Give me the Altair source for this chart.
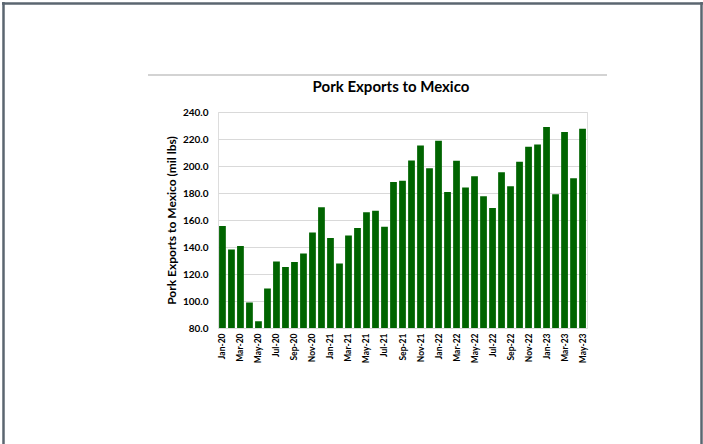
import altair as alt
import pandas as pd

months = [
    "Jan-20", "Feb-20", "Mar-20", "Apr-20", "May-20", "Jun-20", "Jul-20", "Aug-20", "Sep-20", "Oct-20", "Nov-20", "Dec-20",
    "Jan-21", "Feb-21", "Mar-21", "Apr-21", "May-21", "Jun-21", "Jul-21", "Aug-21", "Sep-21", "Oct-21", "Nov-21", "Dec-21",
    "Jan-22", "Feb-22", "Mar-22", "Apr-22", "May-22", "Jun-22", "Jul-22", "Aug-22", "Sep-22", "Oct-22", "Nov-22", "Dec-22",
    "Jan-23", "Feb-23", "Mar-23", "Apr-23", "May-23",
]
exports = [
    155.6, 138.2, 140.7, 98.8, 85.0, 109.2, 129.3, 125.1, 128.8, 135.2, 150.8, 169.4,
    146.6, 127.8, 148.6, 154.1, 165.7, 166.9, 155.0, 188.1, 189.0, 204.1, 215.2, 198.4,
    218.7, 180.8, 203.8, 184.0, 192.4, 177.6, 168.9, 195.4, 185.0, 203.1, 214.2, 216.0,
    228.9, 179.0, 225.1, 191.0, 227.6,
]
shown_labels = months[::2]
y_ticks = [80, 100, 120, 140, 160, 180, 200, 220, 240]
chart_title = "Pork Exports to Mexico"

df = pd.DataFrame({"month": months, "value": exports})
FONT = "Lato"

bars = alt.Chart(df).mark_bar(color="#006400", clip=True).encode(
    x=alt.X(
        "month:N",
        sort=months,
        scale=alt.Scale(paddingInner=0.25, paddingOuter=0.12),
        axis=alt.Axis(
            title=None,
            values=shown_labels,
            labelAngle=-90,
            labelFont=FONT,
            labelFontWeight="bold",
            labelFontSize=8.5,
            labelColor="#000000",
            labelPadding=5,
            ticks=False,
            domain=False,
        ),
    ),
    y=alt.Y(
        "value:Q",
        scale=alt.Scale(domain=[80, 240], nice=False, zero=False),
        axis=alt.Axis(
            title="Pork Exports to Mexico (mil lbs)",
            titleFont=FONT,
            titleFontSize=12,
            titleFontWeight="bold",
            titleColor="#000000",
            titlePadding=4,
            values=y_ticks,
            format=".1f",
            labelFont=FONT,
            labelFontWeight="bold",
            labelFontSize=10,
            labelColor="#000000",
            labelPadding=10,
            ticks=False,
            domain=False,
            grid=True,
            gridColor="#d9d9d9",
            gridWidth=1,
        ),
    ),
)

frame_df = pd.DataFrame({"k": [0]})
frame_color = "#5b6670"
top_border = alt.Chart(frame_df).mark_rule(color=frame_color, strokeWidth=2.5).encode(
    x=alt.value(-216), x2=alt.value(485), y=alt.value(-108.5)
)
left_border = alt.Chart(frame_df).mark_rule(color=frame_color, strokeWidth=2.5).encode(
    x=alt.value(-214.5), y=alt.value(-110), y2=alt.value(332)
)
right_border = alt.Chart(frame_df).mark_rule(color=frame_color, strokeWidth=2.5).encode(
    x=alt.value(483.5), y=alt.value(-110), y2=alt.value(332)
)
title_line = alt.Chart(frame_df).mark_rule(color="#c4c4c4", strokeWidth=1.5).encode(
    x=alt.value(-70), x2=alt.value(389), y=alt.value(-37)
)
title_text = alt.Chart(frame_df).mark_text(
    text=chart_title,
    font=FONT,
    fontSize=15,
    fontWeight="bold",
    color="#000000",
    align="center",
    baseline="alphabetic",
).encode(x=alt.value(173), y=alt.value(-20))

chart = alt.layer(bars, top_border, left_border, right_border, title_line, title_text).properties(
    width=369,
    height=216,
    padding={"left": 218, "top": 112, "right": 116, "bottom": 116},
    autosize=alt.AutoSizeParams(type="none"),
).configure_view(stroke=None).configure(background="#ffffff")

chart.save("out.html", embed_options={"renderer": "svg", "actions": False})
